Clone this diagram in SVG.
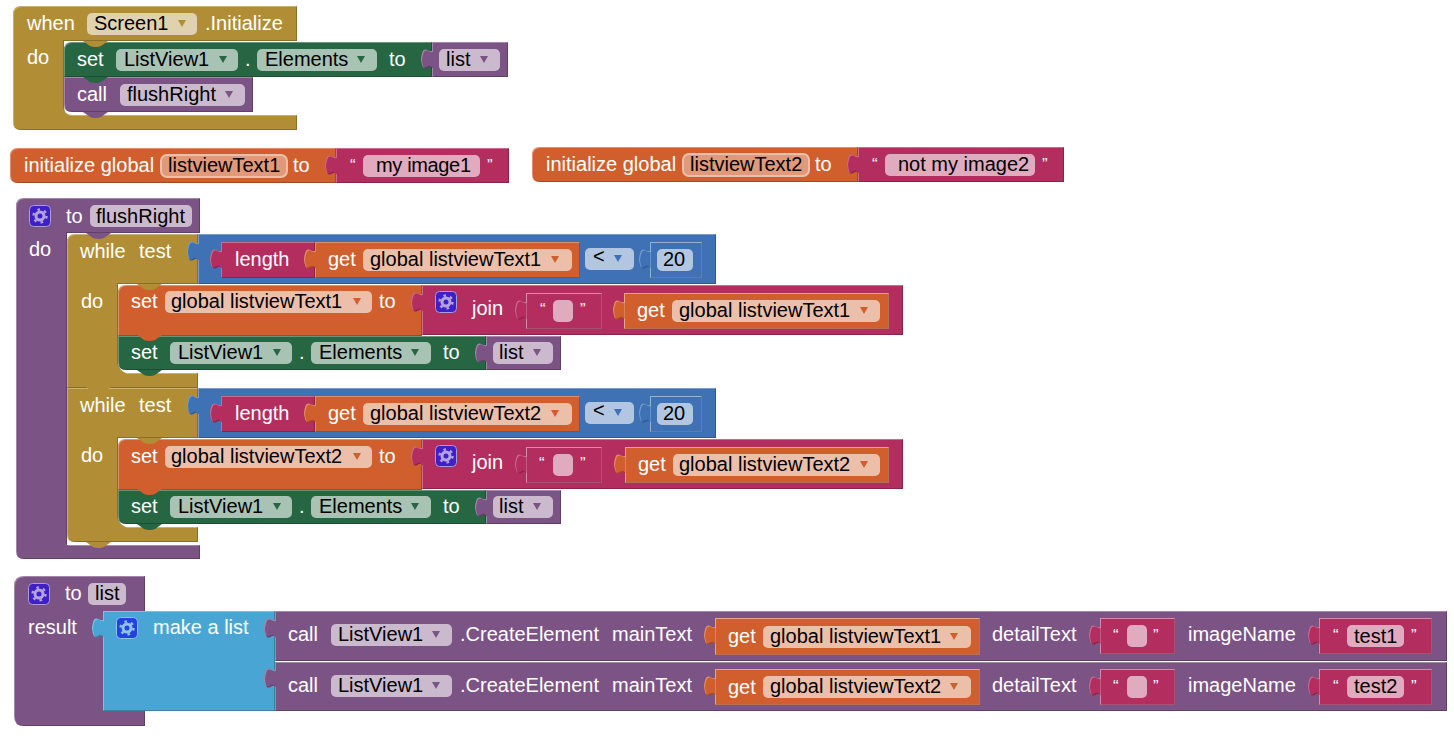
<svg xmlns="http://www.w3.org/2000/svg" width="1454" height="738" viewBox="0 0 1454 738">
<style>
text{font-family:"Liberation Sans",Arial,sans-serif;font-size:20px;fill:#fff}
text.k{fill:#000}
text.q{font-size:17px}
.gold{fill:#b18e35}.green{fill:#266643}.purple{fill:#7c5385}.rose{fill:#b32d5e}.orange{fill:#d05f2d}.blue{fill:#3f71b5}.sky{fill:#49a6d4}
.b{filter:url(#bevel)}
.fgold{fill:#e0d2ae}.fgreen{fill:#a8c2b4}.fpurple{fill:#cbbace}.frose{fill:#e1abbf}.forange{fill:#ecbfab}.fblue{fill:#b2c6e1}
.name{fill:#e0997a;stroke:#ecbfab;stroke-width:2}
.rim{fill:none;stroke:#fff;stroke-opacity:.22}
</style>
<defs>
<filter id="bevel" x="-5%" y="-5%" width="110%" height="110%" color-interpolation-filters="sRGB">
<feOffset in="SourceAlpha" dx="1" dy="1" result="o1"/>
<feComposite in="SourceAlpha" in2="o1" operator="out" result="tl"/>
<feFlood flood-color="#fff" flood-opacity=".3"/>
<feComposite in2="tl" operator="in" result="hi"/>
<feOffset in="SourceAlpha" dx="-1" dy="-1" result="o2"/>
<feComposite in="SourceAlpha" in2="o2" operator="out" result="br"/>
<feFlood flood-color="#000" flood-opacity=".22"/>
<feComposite in2="br" operator="in" result="lo"/>
<feMerge><feMergeNode in="SourceGraphic"/><feMergeNode in="hi"/><feMergeNode in="lo"/></feMerge>
</filter>
<path id="tab" d="M1,18c-3,-3 -5,0 -7,0.500c-3,0.500 -4,-2 -5,-9.500c1,-7 2,-10 5,-9.500c2,0.500 4,3.500 7,0.500z"/>
<path id="bump" d="M0,0h25l-7,5q-2,1 -5.500,1q-3.500,0 -5.500,-1z"/>
<path id="arr" d="M-4,-3h8l-4,7z"/>
<g id="gear">
<rect x=".5" y=".5" width="21" height="21" rx="4" fill="#3f1fc8" stroke="#a99ad8"/>
<circle cx="11" cy="11" r="4" fill="none" stroke="#b3a3e0" stroke-width="3"/>
<circle cx="11" cy="11" r="6.5" fill="none" stroke="#b3a3e0" stroke-width="2.4" stroke-dasharray="2.6 4.2"/>
</g>
<g id="gearb">
<rect x=".5" y=".5" width="21" height="21" rx="4" fill="#2340e0" stroke="#8fc4e8"/>
<circle cx="11" cy="11" r="4" fill="none" stroke="#8fc4e8" stroke-width="3"/>
<circle cx="11" cy="11" r="6.5" fill="none" stroke="#8fc4e8" stroke-width="2.4" stroke-dasharray="2.6 4.2"/>
</g>
</defs>
<rect width="1454" height="738" fill="#fff"/>

<g id="when-initialize">
<path class="gold b" d="M21,6H297V41H64V107q0,8 8,8H297V130H21q-8,0 -8,-8V14q0,-8 8,-8z"/>
<text x="27" y="30">when</text>
<rect class="fgold" x="87" y="13" width="110" height="22" rx="5"/>
<text class="k" x="94" y="30">Screen1</text>
<use href="#arr" x="182" y="23" class="gold"/>
<text x="205" y="30">.Initialize</text>
<text x="27" y="64">do</text>
</g>
<g id="call-flushRight">
<path class="purple b" d="M64,77H253V112H72q-8,0 -8,-8z"/>
<use href="#bump" class="purple" x="83" y="112"/>
<text x="77" y="101">call</text>
<rect class="fpurple" x="120" y="84" width="125" height="22" rx="5"/>
<text class="k" x="127" y="101">flushRight</text>
<use href="#arr" x="229" y="94" class="purple"/>
</g>
<g id="set-elements-1">
<path class="green b" d="M72,42H432V77H64V50q0,-8 8,-8z"/>
<use href="#bump" class="green" x="83" y="77"/>
<use href="#bump" class="gold" x="83" y="41"/>
<text x="77" y="66">set</text>
<rect class="fgreen" x="116" y="49" width="122" height="22" rx="5"/>
<text class="k" x="124" y="66">ListView1</text>
<use href="#arr" x="223" y="59" class="green"/>
<text x="245" y="66">.</text>
<rect class="fgreen" x="257" y="49" width="120" height="22" rx="5"/>
<text class="k" x="265" y="66">Elements</text>
<use href="#arr" x="361" y="59" class="green"/>
<text x="389" y="66">to</text>
</g>
<g id="get-list-1">
<g class="purple b"><rect x="432" y="42" width="76" height="35"/><use href="#tab" x="432" y="50"/></g>
<rect class="fpurple" x="439" y="49" width="61" height="22" rx="5"/>
<text class="k" x="446" y="66">list</text>
<use href="#arr" x="484" y="59" class="purple"/>
</g>

<g id="init-text1">
<path class="orange b" d="M18,148H336V183H18q-8,0 -8,-8V156q0,-8 8,-8z"/>
<text x="24" y="172">initialize global</text>
<rect class="name" x="161" y="155" width="126" height="22" rx="6"/>
<text class="k" x="168" y="172">listviewText1</text>
<text x="293" y="172">to</text>
<g class="rose b"><rect x="336" y="148" width="173" height="35"/><use href="#tab" x="336" y="156"/></g>
<text class="q" x="350" y="171">“</text>
<rect class="frose" x="363" y="155" width="117" height="22" rx="5"/>
<text class="k" x="376" y="172" textLength="95">my image1</text>
<text class="q" x="487" y="171">”</text>
</g>
<g id="init-text2">
<path class="orange b" d="M540,147H858V182H540q-8,0 -8,-8V155q0,-8 8,-8z"/>
<text x="546" y="171">initialize global</text>
<rect class="name" x="683" y="154" width="126" height="22" rx="6"/>
<text class="k" x="690" y="171">listviewText2</text>
<text x="815" y="171">to</text>
<g class="rose b"><rect x="858" y="147" width="206" height="35"/><use href="#tab" x="858" y="155"/></g>
<text class="q" x="872" y="170">“</text>
<rect class="frose" x="885" y="154" width="150" height="22" rx="5"/>
<text class="k" x="898" y="171">not my image2</text>
<text class="q" x="1042" y="170">”</text>
</g>

<g id="proc-flushRight">
<path class="purple b" d="M24,198H200V233H67V545H200V559H24q-8,0 -8,-8V206q0,-8 8,-8z"/>
<use href="#gear" x="29" y="205"/>
<text x="66" y="223">to</text>
<rect class="fpurple" x="90" y="205" width="102" height="22" rx="5"/>
<text class="k" x="96" y="223">flushRight</text>
<text x="29" y="256">do</text>
</g>

<g id="while-1">
<path class="gold b" d="M75,234H198V284H118V362q0,8 8,11H198V388H67V242q0,-8 8,-8z"/>
<use href="#bump" class="purple" x="86" y="233"/>
<text x="80" y="258">while</text>
<text x="139" y="258">test</text>
<text x="81" y="308">do</text>
<g class="blue b"><rect x="198" y="234" width="518" height="50"/><use href="#tab" x="198" y="242"/></g>
<g class="rose b"><rect x="221" y="242" width="94" height="36"/><use href="#tab" x="221" y="250"/></g>
<text x="235" y="266">length</text>
<g class="orange b"><rect x="315" y="242" width="265" height="36"/><use href="#tab" x="315" y="250"/></g>
<text x="328" y="266">get</text>
<rect class="forange" x="363" y="249" width="209" height="22" rx="5"/>
<text class="k" x="370" y="266">global listviewText1</text>
<use href="#arr" x="555" y="259" class="orange"/>
<rect class="fblue" x="585" y="248" width="49" height="22" rx="5"/>
<text class="k" x="593" y="263">&lt;</text>
<use href="#arr" x="618" y="258" class="blue"/>
<g class="blue b"><rect x="650" y="242" width="52" height="36"/><use href="#tab" x="650" y="250"/></g>
<rect class="rim" x="650.5" y="242.5" width="51" height="35"/>
<rect class="fblue" x="657" y="249" width="36" height="22" rx="5"/>
<text class="k" x="663" y="266">20</text>
</g>
<g id="set-text1">
<path class="orange b" d="M126,285H422V336H118V293q0,-8 8,-8z"/>
<use href="#bump" class="gold" x="137" y="284"/>
<text x="131" y="308">set</text>
<rect class="forange" x="165" y="291" width="207" height="22" rx="5"/>
<text class="k" x="171" y="308">global listviewText1</text>
<use href="#arr" x="357" y="301" class="orange"/>
<text x="379" y="308">to</text>
<g class="rose b"><rect x="422" y="285" width="481" height="50"/><use href="#tab" x="422" y="293"/></g>
<use href="#gear" x="435" y="291"/>
<text x="472" y="315">join</text>
<g class="rose b"><rect x="526" y="293" width="76" height="36"/><use href="#tab" x="526" y="301"/></g>
<rect class="rim" x="526.5" y="293.5" width="75" height="35"/>
<text class="q" x="540" y="315">“</text>
<rect class="frose" x="553" y="300" width="20" height="22" rx="5"/>
<text class="q" x="580" y="315">”</text>
<g class="orange b"><rect x="624" y="293" width="265" height="36"/><use href="#tab" x="624" y="301"/></g>
<rect class="rim" x="624.5" y="293.5" width="264" height="35"/>
<text x="637" y="317">get</text>
<rect class="forange" x="672" y="300" width="208" height="22" rx="5"/>
<text class="k" x="679" y="317">global listviewText1</text>
<use href="#arr" x="864" y="310" class="orange"/>
</g>
<g id="set-elements-2">
<path class="green b" d="M118,336H486V370H126q-8,0 -8,-8z"/>
<use href="#bump" class="green" x="137" y="370"/>
<use href="#bump" class="orange" x="137" y="335"/>
<text x="131" y="359">set</text>
<rect class="fgreen" x="170" y="342" width="122" height="22" rx="5"/>
<text class="k" x="178" y="359">ListView1</text>
<use href="#arr" x="277" y="352" class="green"/>
<text x="299" y="359">.</text>
<rect class="fgreen" x="311" y="342" width="120" height="22" rx="5"/>
<text class="k" x="319" y="359">Elements</text>
<use href="#arr" x="415" y="352" class="green"/>
<text x="443" y="359">to</text>
<g class="purple b"><rect x="486" y="336" width="75" height="34"/><use href="#tab" x="486" y="344"/></g>
<rect class="fpurple" x="493" y="342" width="60" height="22" rx="5"/>
<text class="k" x="499" y="359">list</text>
<use href="#arr" x="537" y="352" class="purple"/>
</g>

<g id="while-2" transform="translate(0,154)">
<path class="gold b" d="M67,234H198V284H118V362q0,8 8,11H198V388H75q-8,0 -8,-8z"/>
<use href="#bump" class="gold" x="86" y="388"/>
<use href="#bump" class="gold" x="86" y="233"/>
<text x="80" y="258">while</text>
<text x="139" y="258">test</text>
<text x="81" y="308">do</text>
<g class="blue b"><rect x="198" y="234" width="518" height="50"/><use href="#tab" x="198" y="242"/></g>
<g class="rose b"><rect x="221" y="242" width="94" height="36"/><use href="#tab" x="221" y="250"/></g>
<text x="235" y="266">length</text>
<g class="orange b"><rect x="315" y="242" width="265" height="36"/><use href="#tab" x="315" y="250"/></g>
<text x="328" y="266">get</text>
<rect class="forange" x="363" y="249" width="209" height="22" rx="5"/>
<text class="k" x="370" y="266">global listviewText2</text>
<use href="#arr" x="555" y="259" class="orange"/>
<rect class="fblue" x="585" y="248" width="49" height="22" rx="5"/>
<text class="k" x="593" y="263">&lt;</text>
<use href="#arr" x="618" y="258" class="blue"/>
<g class="blue b"><rect x="650" y="242" width="52" height="36"/><use href="#tab" x="650" y="250"/></g>
<rect class="rim" x="650.5" y="242.5" width="51" height="35"/>
<rect class="fblue" x="657" y="249" width="36" height="22" rx="5"/>
<text class="k" x="663" y="266">20</text>
</g>
<g id="set-text2" transform="translate(0,154)">
<path class="orange b" d="M126,285H422V336H118V293q0,-8 8,-8z"/>
<use href="#bump" class="gold" x="137" y="284"/>
<text x="131" y="309">set</text>
<rect class="forange" x="165" y="292" width="207" height="22" rx="5"/>
<text class="k" x="171" y="309">global listviewText2</text>
<use href="#arr" x="357" y="302" class="orange"/>
<text x="379" y="309">to</text>
<g class="rose b"><rect x="422" y="285" width="481" height="50"/><use href="#tab" x="422" y="293"/></g>
<use href="#gear" x="435" y="291"/>
<text x="472" y="315">join</text>
<g class="rose b"><rect x="526" y="293" width="76" height="36"/><use href="#tab" x="526" y="301"/></g>
<rect class="rim" x="526.5" y="293.5" width="75" height="35"/>
<text class="q" x="539" y="315">“</text>
<rect class="frose" x="553" y="300" width="20" height="22" rx="5"/>
<text class="q" x="580" y="315">”</text>
<g class="orange b"><rect x="625" y="293" width="264" height="36"/><use href="#tab" x="625" y="301"/></g>
<rect class="rim" x="625.5" y="293.5" width="263" height="35"/>
<text x="638" y="317">get</text>
<rect class="forange" x="673" y="300" width="207" height="22" rx="5"/>
<text class="k" x="679" y="317">global listviewText2</text>
<use href="#arr" x="864" y="310" class="orange"/>
</g>
<g id="set-elements-3" transform="translate(0,154)">
<path class="green b" d="M118,336H486V370H126q-8,0 -8,-8z"/>
<use href="#bump" class="green" x="137" y="370"/>
<use href="#bump" class="orange" x="137" y="335"/>
<text x="131" y="359">set</text>
<rect class="fgreen" x="170" y="342" width="122" height="22" rx="5"/>
<text class="k" x="178" y="359">ListView1</text>
<use href="#arr" x="277" y="352" class="green"/>
<text x="299" y="359">.</text>
<rect class="fgreen" x="311" y="342" width="120" height="22" rx="5"/>
<text class="k" x="319" y="359">Elements</text>
<use href="#arr" x="415" y="352" class="green"/>
<text x="443" y="359">to</text>
<g class="purple b"><rect x="486" y="336" width="75" height="34"/><use href="#tab" x="486" y="344"/></g>
<rect class="fpurple" x="493" y="342" width="60" height="22" rx="5"/>
<text class="k" x="499" y="359">list</text>
<use href="#arr" x="537" y="352" class="purple"/>
</g>

<g id="proc-list">
<path class="purple b" d="M24,576H145V726H24q-10,0 -10,-10V586q0,-10 10,-10z"/>
<use href="#gear" x="28" y="583"/>
<text x="65" y="600">to</text>
<rect class="fpurple" x="88" y="583" width="38" height="22" rx="5"/>
<text class="k" x="95" y="600">list</text>
<text x="28" y="634">result</text>
</g>
<g id="make-a-list">
<g class="sky b"><rect x="103" y="611" width="172" height="100"/><use href="#tab" x="103" y="619"/></g>
<use href="#gearb" x="116" y="617"/>
<text x="153" y="634">make a list</text>
</g>
<g id="call-create-1">
<g class="purple b"><rect x="275" y="611" width="1172" height="50"/><use href="#tab" x="275" y="619"/></g>
<text x="288" y="641">call</text>
<rect class="fpurple" x="331" y="624" width="121" height="22" rx="5"/>
<text class="k" x="338" y="641">ListView1</text>
<use href="#arr" x="436" y="634" class="purple"/>
<text x="460" y="641">.CreateElement</text>
<text x="612" y="641">mainText</text>
<g class="orange b"><rect x="715" y="618" width="265" height="37"/><use href="#tab" x="715" y="626"/></g>
<rect class="rim" x="715.5" y="618.5" width="264" height="36"/>
<text x="728" y="643">get</text>
<rect class="forange" x="763" y="626" width="208" height="22" rx="5"/>
<text class="k" x="770" y="643">global listviewText1</text>
<use href="#arr" x="954" y="636" class="orange"/>
<text x="992" y="641">detailText</text>
<g class="rose b"><rect x="1100" y="618" width="75" height="36"/><use href="#tab" x="1100" y="626"/></g>
<rect class="rim" x="1100.5" y="618.5" width="74" height="35"/>
<text class="q" x="1113" y="641">“</text>
<rect class="frose" x="1127" y="625" width="20" height="22" rx="5"/>
<text class="q" x="1153" y="641">”</text>
<text x="1188" y="641">imageName</text>
<g class="rose b"><rect x="1319" y="618" width="113" height="36"/><use href="#tab" x="1319" y="626"/></g>
<rect class="rim" x="1319.5" y="618.5" width="112" height="35"/>
<text class="q" x="1333" y="641">“</text>
<rect class="frose" x="1347" y="625" width="57" height="22" rx="5"/>
<text class="k" x="1354" y="643">test1</text>
<text class="q" x="1411" y="641">”</text>
</g>
<g id="call-create-2" transform="translate(0,51)">
<g class="purple b"><rect x="275" y="611" width="1172" height="49"/><use href="#tab" x="275" y="618"/></g>
<text x="288" y="641">call</text>
<rect class="fpurple" x="331" y="624" width="121" height="22" rx="5"/>
<text class="k" x="338" y="641">ListView1</text>
<use href="#arr" x="436" y="634" class="purple"/>
<text x="460" y="641">.CreateElement</text>
<text x="612" y="641">mainText</text>
<g class="orange b"><rect x="715" y="618" width="265" height="36"/><use href="#tab" x="715" y="626"/></g>
<rect class="rim" x="715.5" y="618.5" width="264" height="35"/>
<text x="728" y="643">get</text>
<rect class="forange" x="763" y="625" width="208" height="22" rx="5"/>
<text class="k" x="770" y="642">global listviewText2</text>
<use href="#arr" x="954" y="635" class="orange"/>
<text x="992" y="641">detailText</text>
<g class="rose b"><rect x="1100" y="618" width="75" height="36"/><use href="#tab" x="1100" y="626"/></g>
<rect class="rim" x="1100.5" y="618.5" width="74" height="35"/>
<text class="q" x="1113" y="641">“</text>
<rect class="frose" x="1127" y="625" width="20" height="22" rx="5"/>
<text class="q" x="1153" y="641">”</text>
<text x="1188" y="641">imageName</text>
<g class="rose b"><rect x="1319" y="618" width="113" height="36"/><use href="#tab" x="1319" y="626"/></g>
<rect class="rim" x="1319.5" y="618.5" width="112" height="35"/>
<text class="q" x="1333" y="641">“</text>
<rect class="frose" x="1347" y="625" width="57" height="22" rx="5"/>
<text class="k" x="1354" y="642">test2</text>
<text class="q" x="1411" y="641">”</text>
</g>
</svg>
